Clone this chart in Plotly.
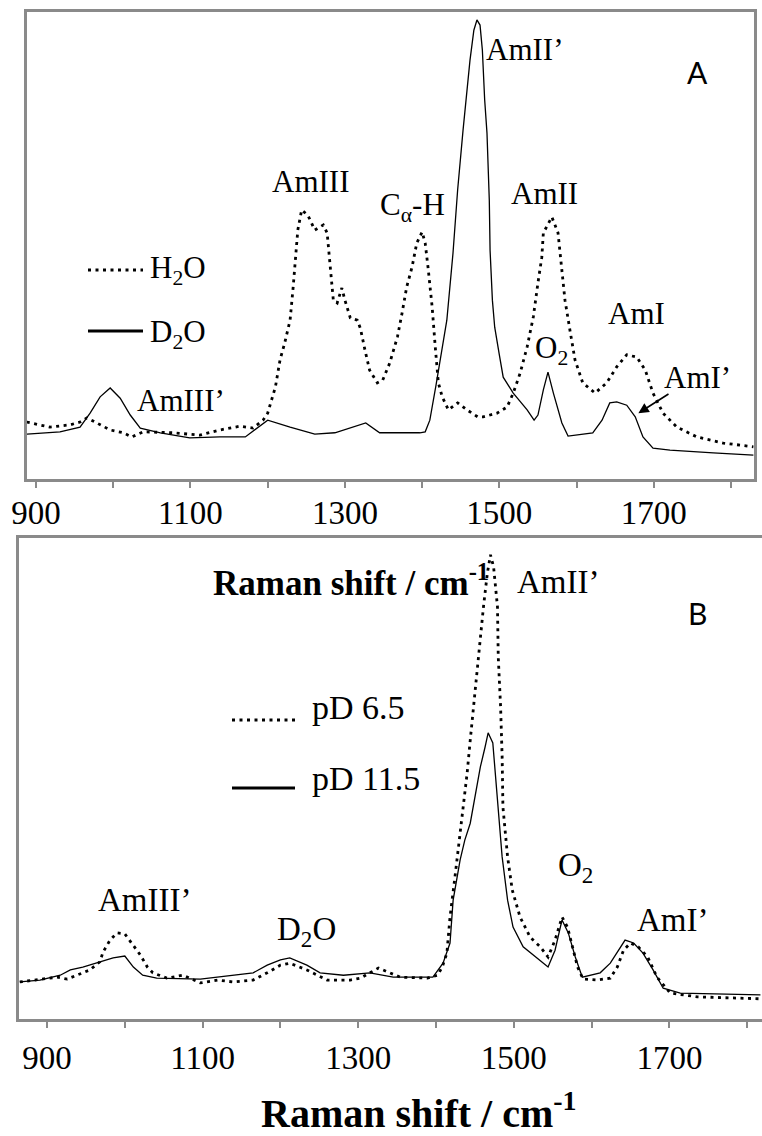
import plotly.graph_objects as go

# ---------------- Panel A: protein Raman spectra in H2O and D2O ----------------
a_shift_h2o = [888, 918, 944, 957, 966, 979, 996, 1013, 1024, 1039,
               1077, 1112, 1138, 1164, 1181, 1194, 1200, 1210, 1216, 1222,
               1229, 1233, 1237, 1239, 1244, 1252, 1261, 1272, 1277, 1281,
               1285, 1290, 1296, 1300, 1307, 1316, 1320, 1326, 1332, 1342,
               1349, 1358, 1368, 1374, 1380, 1387, 1393, 1400, 1404, 1408,
               1413, 1417, 1421, 1426, 1434, 1446, 1458, 1472, 1479, 1497,
               1510, 1518, 1527, 1536, 1544, 1550, 1555, 1557, 1568, 1576,
               1581, 1585, 1592, 1598, 1608, 1624, 1639, 1652, 1665, 1678,
               1689, 1699, 1712, 1730, 1756, 1790, 1829]
a_int_h2o = [12.2, 11.1, 11.6, 12.2, 13.1, 12.0, 10.5, 9.9, 9.0, 10.1,
             9.9, 9.4, 10.5, 11.3, 10.9, 12.6, 14.1, 19.7, 25.5, 29.1,
             34.0, 41.1, 48.4, 53.3, 57.6, 56.5, 53.3, 54.4, 52.7, 45.4,
             38.3, 37.7, 40.9, 38.3, 34.5, 34.0, 32.3, 27.6, 23.3, 20.6,
             21.2, 24.8, 30.4, 35.5, 41.1, 45.4, 50.5, 52.9, 50.5, 44.8,
             36.8, 28.3, 20.6, 17.6, 14.8, 16.3, 14.8, 13.3, 13.3, 14.1,
             15.4, 18.4, 22.7, 28.3, 34.7, 42.0, 47.5, 52.7, 56.1, 52.7,
             45.4, 38.3, 31.3, 25.5, 20.6, 18.4, 20.6, 24.0, 26.6, 26.1,
             23.3, 18.4, 14.1, 11.1, 9.0, 7.7, 6.9]

a_shift_d2o = [888, 931, 957, 970, 983, 996, 1009, 1022, 1035, 1061,
               1099, 1138, 1171, 1187, 1200, 1229, 1261, 1287, 1309, 1327,
               1345, 1397, 1404, 1410, 1418, 1426, 1432, 1440, 1446, 1453,
               1458, 1462, 1467, 1471, 1475, 1478, 1481, 1484, 1487, 1488,
               1491, 1494, 1500, 1505, 1518, 1536, 1545, 1550, 1557, 1563,
               1570, 1576, 1581, 1589, 1621, 1633, 1643, 1652, 1665, 1676,
               1686, 1699, 1721, 1777, 1829]
a_int_d2o = [9.6, 10.1, 11.1, 14.1, 17.6, 19.5, 17.3, 13.7, 10.9, 9.9,
             8.8, 9.0, 9.0, 10.9, 12.6, 11.1, 9.6, 9.9, 11.1, 12.0,
             9.9, 9.9, 10.1, 12.6, 20.1, 27.6, 34.0, 48.4, 61.9, 74.7,
             83.3, 89.7, 96.1, 98.3, 97.2, 91.9, 81.2, 74.1, 59.7, 49.0,
             38.3, 32.5, 26.6, 21.8, 18.4, 14.8, 12.6, 13.7, 19.1, 22.9,
             18.4, 14.8, 12.0, 9.2, 9.9, 12.6, 16.3, 16.5, 15.8, 13.3,
             9.0, 6.6, 6.2, 5.6, 5.1]

# ---------------- Panel B: D2O spectra at pD 6.5 and pD 11.5 ----------------
b_shift_pd65 = [865, 887, 913, 926, 946, 955, 968, 972, 981, 990,
                1000, 1009, 1020, 1029, 1036, 1054, 1075, 1097, 1119, 1139,
                1165, 1183, 1200, 1212, 1234, 1260, 1290, 1303, 1326, 1354,
                1389, 1402, 1408, 1414, 1418, 1425, 1431, 1435, 1440, 1444,
                1448, 1453, 1457, 1461, 1466, 1470, 1474, 1479, 1480, 1483,
                1485, 1486, 1492, 1498, 1508, 1521, 1534, 1544, 1553, 1562,
                1569, 1575, 1582, 1589, 1607, 1624, 1633, 1641, 1650, 1660,
                1672, 1684, 1701, 1736, 1778, 1817]
b_int_pd65 = [7.7, 8.1, 8.7, 8.3, 9.6, 10.2, 11.9, 13.9, 16.4, 17.9,
              17.7, 15.8, 13.3, 10.8, 9.6, 8.5, 9.1, 7.5, 8.1, 7.7,
              8.1, 9.6, 11.2, 11.6, 10.2, 8.1, 8.1, 8.5, 10.6, 8.7,
              8.5, 9.1, 10.8, 13.7, 21.2, 30.4, 38.7, 44.1, 51.1, 58.0,
              64.9, 71.9, 78.8, 85.7, 92.7, 96.5, 94.0, 85.7, 75.3, 64.9,
              54.5, 44.1, 33.7, 26.8, 21.2, 17.0, 15.0, 12.9, 16.4, 21.2,
              19.1, 15.0, 10.8, 8.3, 8.1, 8.5, 10.8, 14.3, 15.8, 15.0,
              12.9, 8.7, 5.4, 4.6, 4.4, 4.2]

b_shift_pd115 = [865, 891, 917, 930, 946, 968, 985, 1000, 1011, 1023,
                 1041, 1097, 1139, 1165, 1183, 1200, 1212, 1234, 1251, 1281,
                 1315, 1345, 1396, 1409, 1418, 1422, 1431, 1437, 1444, 1450,
                 1457, 1463, 1467, 1473, 1479, 1485, 1492, 1499, 1512, 1530,
                 1544, 1553, 1562, 1570, 1579, 1588, 1611, 1624, 1637, 1643,
                 1654, 1666, 1679, 1692, 1714, 1756, 1817]
b_int_pd115 = [7.7, 8.1, 9.1, 10.2, 10.8, 11.9, 12.7, 13.1, 10.8, 9.1,
               8.5, 8.3, 9.1, 9.6, 11.2, 12.3, 12.7, 11.2, 9.6, 9.1,
               9.6, 8.7, 8.7, 11.6, 15.8, 24.7, 33.1, 37.2, 40.7, 46.2,
               52.4, 56.5, 59.5, 57.4, 45.5, 33.7, 24.7, 19.1, 15.0, 12.7,
               10.8, 14.3, 20.6, 17.9, 12.9, 8.7, 9.6, 11.6, 15.0, 16.4,
               15.8, 13.7, 10.2, 6.4, 5.4, 5.2, 5.0]

# Shared x-axis ticks: a tick every 100 cm-1, labels every 200 cm-1
tick_values = [900, 1000, 1100, 1200, 1300, 1400, 1500, 1600, 1700, 1800]
tick_labels = ["900", "", "1100", "", "1300", "", "1500", "", "1700", ""]

W, H = 762, 1136
SERIF = "Liberation Serif"
SANS = "Lato"
GRAY = "#8a8a8a"
DOT = "3px,4.5px"

A_RANGE = [888.3, 1829.8]
B_RANGE = [864, 1819]


def px(x):
    return x / W


def py(y):
    return 1 - y / H


A_DOM_X = [px(27), px(754)]
B_DOM_X = [px(19), 1.0]

fig = go.Figure()

fig.add_trace(go.Scatter(x=a_shift_h2o, y=a_int_h2o, mode="lines",
                         line=dict(color="black", width=2.8, dash=DOT),
                         xaxis="x", yaxis="y", showlegend=False))
fig.add_trace(go.Scatter(x=a_shift_d2o, y=a_int_d2o, mode="lines",
                         line=dict(color="black", width=1.3),
                         xaxis="x", yaxis="y", showlegend=False))
fig.add_trace(go.Scatter(x=b_shift_pd65, y=b_int_pd65, mode="lines",
                         line=dict(color="black", width=2.8, dash=DOT),
                         xaxis="x2", yaxis="y2", showlegend=False))
fig.add_trace(go.Scatter(x=b_shift_pd115, y=b_int_pd115, mode="lines",
                         line=dict(color="black", width=1.3),
                         xaxis="x2", yaxis="y2", showlegend=False))

# Empty traces so the tick-label axes get drawn
fig.add_trace(go.Scatter(x=[], y=[], xaxis="x3", yaxis="y", showlegend=False,
                         hoverinfo="skip"))
fig.add_trace(go.Scatter(x=[], y=[], xaxis="x4", yaxis="y2", showlegend=False,
                         hoverinfo="skip"))

# Main axes carry the frame and tick marks
xaxis_frame = dict(tickmode="array", tickvals=tick_values,
                   ticks="outside", ticklen=6, tickwidth=1.5, tickcolor=GRAY,
                   showticklabels=False, automargin=False,
                   showline=True, linecolor=GRAY, linewidth=2.5,
                   showgrid=False, zeroline=False)
# Companion axes carry the tick labels, set just below the frame
xaxis_labels = dict(tickmode="array", tickvals=tick_values, ticktext=tick_labels,
                    ticks="", showline=False, showgrid=False, zeroline=False,
                    anchor="free", automargin=False,
                    tickfont=dict(family=SERIF, size=33, color="black"))
yaxis_common = dict(showticklabels=False, ticks="", showgrid=False, zeroline=False,
                    automargin=False,
                    showline=True, linecolor=GRAY, linewidth=2.5, range=[0, 100])

fig.update_layout(
    width=W, height=H,
    margin=dict(l=0, r=0, t=0, b=0),
    paper_bgcolor="white", plot_bgcolor="white",
    font=dict(family=SERIF, color="black"),
    xaxis=dict(xaxis_frame, domain=A_DOM_X, range=A_RANGE, anchor="y", mirror=True),
    yaxis=dict(yaxis_common, domain=[py(479), py(12)], anchor="x", mirror=True),
    xaxis2=dict(xaxis_frame, domain=B_DOM_X, range=B_RANGE, anchor="y2", mirror=True),
    yaxis2=dict(yaxis_common, domain=[py(1019), py(538)], anchor="x2", mirror=False),
    xaxis3=dict(xaxis_labels, domain=A_DOM_X, range=A_RANGE, overlaying="x",
                position=py(490)),
    xaxis4=dict(xaxis_labels, domain=B_DOM_X, range=B_RANGE, overlaying="x2",
                position=py(1035)),
)

label_font = dict(family=SERIF, size=31, color="black")

# Peak labels, panel A
for txt, x, y in [("AmIII", 1255, 63.6), ("C<sub>α</sub>-H", 1387, 58.2),
                  ("AmII’", 1533, 91.9), ("AmII", 1559, 61.2),
                  ("AmIII’", 1088, 16.9), ("O<sub>2</sub>", 1567, 27.6),
                  ("AmI", 1678, 35.5), ("AmI’", 1756, 21.8)]:
    fig.add_annotation(x=x, y=y, xref="x", yref="y", text=txt, showarrow=False,
                       font=label_font, xanchor="center", yanchor="middle")

# Arrow pointing at the AmI' band
fig.add_annotation(x=1680, y=14.1, ax=1721, ay=18.4, xref="x", yref="y",
                   axref="x", ayref="y", text="", showarrow=True,
                   arrowhead=2, arrowsize=1.3, arrowwidth=1.6, arrowcolor="black")

fig.add_annotation(x=1756, y=87.2, xref="x", yref="y", text="A", showarrow=False,
                   font=dict(family=SANS, size=30, color="black"))

# Peak labels, panel B
for txt, x, y in [("AmII’", 1557, 90.9), ("AmIII’", 1025, 24.7),
                  ("D<sub>2</sub>O", 1234, 18.1), ("O<sub>2</sub>", 1579, 31.4),
                  ("AmI’", 1704, 20.6)]:
    fig.add_annotation(x=x, y=y, xref="x2", yref="y2", text=txt, showarrow=False,
                       font=dict(family=SERIF, size=33, color="black"),
                       xanchor="center", yanchor="middle")

fig.add_annotation(x=1736, y=84.4, xref="x2", yref="y2", text="B", showarrow=False,
                   font=dict(family=SANS, size=30, color="black"))

# Legend samples and texts
legend_items = [
    (88, 143, 270, 148, 270, "H<sub>2</sub>O", DOT, 2.8, 31),
    (88, 143, 331, 148, 334, "D<sub>2</sub>O", "solid", 3.2, 31),
    (232, 295, 720, 310, 707, "pD 6.5", DOT, 2.8, 34),
    (232, 295, 788, 310, 779, "pD 11.5", "solid", 3.2, 34),
]
for x0, x1, yl, xt, yt, txt, dash, lw, fs in legend_items:
    fig.add_shape(type="line", xref="paper", yref="paper",
                  x0=px(x0), x1=px(x1), y0=py(yl), y1=py(yl),
                  line=dict(color="black", width=lw, dash=dash))
    fig.add_annotation(x=px(xt), y=py(yt), xref="paper", yref="paper", text=txt,
                       showarrow=False, xanchor="left", yanchor="middle",
                       font=dict(family=SERIF, size=fs, color="black"))

# Axis titles
fig.add_annotation(x=px(351), y=py(580), xref="paper", yref="paper",
                   text="<b>Raman shift / cm<sup>-1</sup></b>", showarrow=False,
                   xanchor="center", yanchor="middle",
                   font=dict(family=SERIF, size=35, color="black"))
fig.add_annotation(x=px(419), y=0.0, xref="paper", yref="paper",
                   text="<b>Raman shift / cm<sup>-1</sup></b>", showarrow=False,
                   xanchor="center", yanchor="bottom", yshift=-2,
                   font=dict(family=SERIF, size=40, color="black"))

fig.write_html("out.html")
